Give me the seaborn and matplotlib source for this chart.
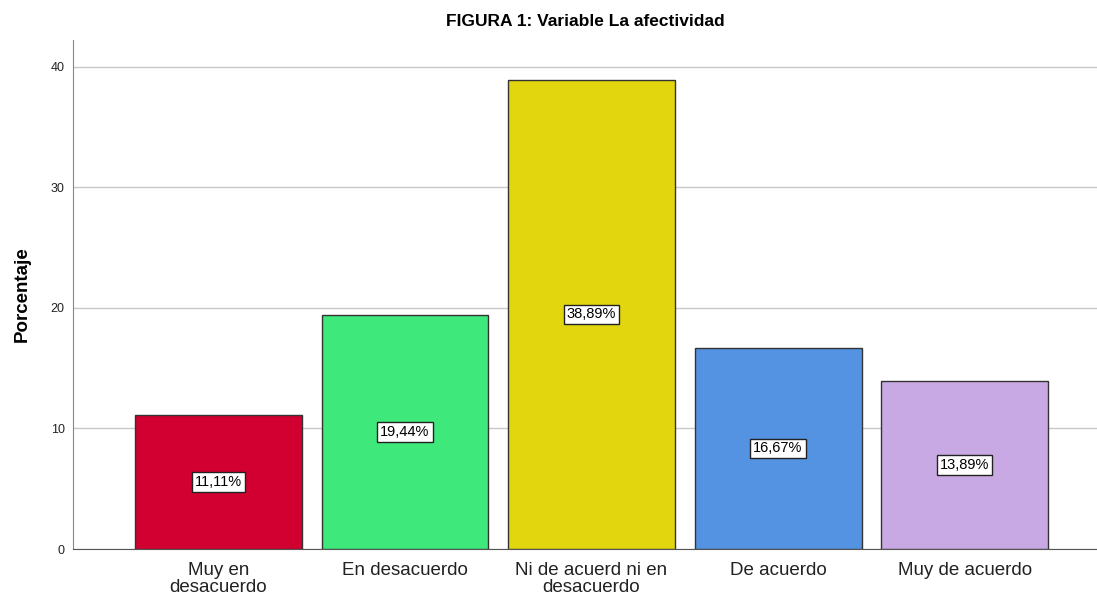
import pandas as pd
import seaborn as sns
import matplotlib.pyplot as plt

categorias = ["Muy en\ndesacuerdo", "En desacuerdo", "Ni de acuerd ni en\ndesacuerdo",
              "De acuerdo", "Muy de acuerdo"]
porcentaje = [11.11, 19.44, 38.89, 16.67, 13.89]
colores = ["#D20030", "#3FE87B", "#E2D70E", "#5393E2", "#C9A9E3"]

df = pd.DataFrame({"categoria": categorias, "porcentaje": porcentaje})

sns.set_style("white")
plt.rcParams['font.family'] = ['Liberation Sans', 'DejaVu Sans']

fig = plt.figure(figsize=(10.97, 6.01), dpi=100)
ax = fig.add_axes([0.0665, 0.0865, 0.9335, 0.847])

sns.barplot(data=df, x="categoria", y="porcentaje", hue="categoria",
            palette=colores, saturation=1, legend=False, width=0.895,
            edgecolor="#333333", linewidth=1.0, ax=ax, zorder=3)

for i, v in enumerate(porcentaje):
    ax.text(i, v / 2, f"{v:.2f}%".replace(".", ","), ha="center", va="center",
            fontsize=10.5, color="black", zorder=5,
            bbox=dict(boxstyle="square,pad=0.2", fc="white", ec="#222222", lw=1))

ax.set_ylim(0, 42.2)
ax.set_xlim(-0.78, 4.71)
ax.set_yticks([0, 10, 20, 30, 40])
ax.yaxis.grid(True, color="#c8c8c8", lw=1, zorder=0)
ax.set_axisbelow(True)
for s in ["top", "right"]:
    ax.spines[s].set_visible(False)
ax.spines["left"].set_color("#888888")
ax.spines["bottom"].set_color("#555555")
ax.tick_params(axis="y", labelsize=9, length=0, pad=6, colors="#222222")
ax.tick_params(axis="x", labelsize=13.5, length=0, pad=9, colors="#222222")
for t in ax.get_xticklabels():
    t.set_linespacing(1.05)

ax.set_xlabel("")
ax.set_ylabel("Porcentaje", fontsize=13.5, fontweight="bold", labelpad=14, color="black")
ax.set_title("FIGURA 1: Variable La afectividad", fontsize=12.5, fontweight="bold",
             pad=10, color="black")

fig.savefig("out.png", dpi=100)
